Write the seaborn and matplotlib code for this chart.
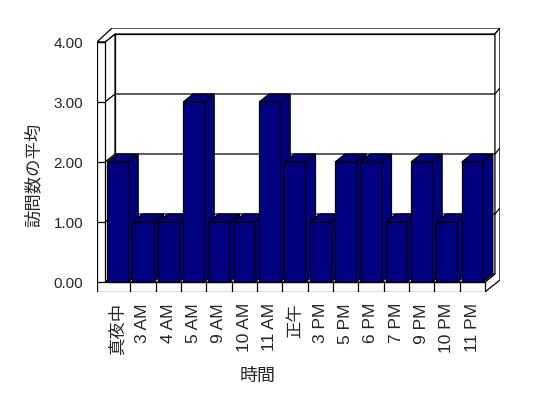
import matplotlib
matplotlib.use("Agg")
import matplotlib.pyplot as plt
import seaborn as sns
import pandas as pd
from matplotlib.patches import Polygon

categories = ["真夜中", "3 AM", "4 AM", "5 AM", "9 AM", "10 AM", "11 AM", "正午",
              "3 PM", "5 PM", "6 PM", "7 PM", "9 PM", "10 PM", "11 PM"]
values = [2, 1, 1, 3, 1, 1, 3, 2, 1, 2, 2, 1, 2, 1, 2]
yticks = [0, 1, 2, 3, 4]
ytick_labels = ["0.00", "1.00", "2.00", "3.00", "4.00"]
xlabel = "時間"
ylabel = "訪問数の平均"

sns.set_style("white")
plt.rcParams["font.family"] = ["Liberation Sans", "Noto Sans CJK JP", "DejaVu Sans"]

W, H = 548, 398
fig = plt.figure(figsize=(W / 100, H / 100), dpi=100)

# geometry (pixel scales)
PX = 25.33   # px per category
PY = 60.0    # px per value unit
n = len(categories)
x0, x1 = -0.5, n - 0.5
ytop = 4.0
DX, DY = 10 / PX, 8 / PY       # depth offset
TX, TY = 5 / PX, 6 / PY        # wall thickness
LW = 8 / PX                    # left wall front thickness
FT = 10 / PY                   # floor thickness

xmin, xmax = x0 - LW, x1 + DX + TX
ymin, ymax = -FT, ytop + DY + TY
left_px, bottom_px = 97, 292
wpx = (xmax - xmin) * PX
hpx = (ymax - ymin) * PY
ax = fig.add_axes([left_px / W, 1 - bottom_px / H, wpx / W, hpx / H])

df = pd.DataFrame({"cat": categories, "val": values})
sns.barplot(data=df, x="cat", y="val", order=categories, color="#000080",
            saturation=1, width=0.83, edgecolor="black", linewidth=0.9, ax=ax)

lw = 0.9
ec = "black"

# left wall + floor front (L shape)
ax.add_patch(Polygon([(x0 - LW, -FT), (x1, -FT), (x1, 0), (x0, 0), (x0, ytop), (x0 - LW, ytop)],
                     closed=True, fc="white", ec=ec, lw=lw, zorder=2))
# left wall inner face
ax.add_patch(Polygon([(x0, 0), (x0, ytop), (x0 + DX, ytop + DY), (x0 + DX, DY)],
                     closed=True, fc="white", ec=ec, lw=lw, zorder=1.5))
# back wall inner face
ax.add_patch(Polygon([(x0 + DX, DY), (x1 + DX, DY), (x1 + DX, ytop + DY), (x0 + DX, ytop + DY)],
                     closed=True, fc="white", ec=ec, lw=lw, zorder=1.4))
# top of walls
ax.add_patch(Polygon([(x0 - LW, ytop), (x0, ytop), (x0 + DX, ytop + DY), (x1 + DX, ytop + DY),
                      (x1 + DX + TX, ytop + DY + TY), (x0 - LW + DX + TX, ytop + DY + TY)],
                     closed=True, fc="white", ec=ec, lw=lw, zorder=1.6))
# right faces (back wall + floor)
Yb = -FT + (DX + TX) * PX * 0.8 / PY
ax.add_patch(Polygon([(x1, -FT), (x1, 0), (x1 + DX, DY), (x1 + DX, ytop + DY),
                      (x1 + DX + TX, ytop + DY + TY), (x1 + DX + TX, Yb)],
                     closed=True, fc="white", ec=ec, lw=lw, zorder=1.6))
# floor top
ax.add_patch(Polygon([(x0, 0), (x1, 0), (x1 + DX, DY), (x0 + DX, DY)],
                     closed=True, fc="white", ec=ec, lw=lw, zorder=1.7))
# floor front dividers
for k in range(1, n):
    ax.plot([k - 0.5, k - 0.5], [-FT, 0], color=ec, lw=lw, zorder=2.5, solid_capstyle="butt")

# gridlines
for k in yticks:
    ax.plot([x0 - LW, x0], [k, k], color=ec, lw=lw, zorder=2.5)
    if 0 < k < ytop:
        ax.plot([x0, x0 + DX, x1 + DX, x1 + DX + TX], [k, k + DY, k + DY, k + DY + TY],
                color=ec, lw=lw, zorder=1.8)

# 3D bar sides and tops
dxb, dyb = DX, DY
for i, p in enumerate(ax.patches[:n]):
    bx, bw, bh = p.get_x(), p.get_width(), p.get_height()
    p.set_zorder(10 + 3 * i + 2)
    side = Polygon([(bx + bw, 0), (bx + bw + dxb, dyb), (bx + bw + dxb, bh + dyb), (bx + bw, bh)],
                   closed=True, fc="#000080", ec=ec, lw=lw, zorder=10 + 3 * i + 1)
    top = Polygon([(bx, bh), (bx + bw, bh), (bx + bw + dxb, bh + dyb), (bx + dxb, bh + dyb)],
                  closed=True, fc="#000080", ec=ec, lw=lw, zorder=10 + 3 * i + 1)
    ax.add_patch(side)
    ax.add_patch(top)

ax.set_xlim(xmin, xmax)
ax.set_ylim(ymin, ymax)
for s in ax.spines.values():
    s.set_visible(False)
ax.set_facecolor("none")
ax.grid(False)

ax.set_yticks(yticks)
ax.set_yticklabels(ytick_labels, fontsize=11)
ax.set_xticks(range(n))
ax.set_xticklabels(categories, rotation=90, fontsize=12.5)
ax.tick_params(axis="y", length=0, pad=10)
ax.tick_params(axis="x", length=0, pad=8)
ax.set_xlabel("")
ax.set_ylabel("")

fig.text(258 / W, 1 - 376 / H, xlabel, fontsize=13, ha="center", va="center",
         family=["Noto Sans CJK JP", "DejaVu Sans"])
fig.text(34 / W, 1 - 175 / H, ylabel, fontsize=12.5, ha="center", va="center", rotation=90,
         family=["Noto Sans CJK JP", "DejaVu Sans"])

fig.savefig("out.png", dpi=100, facecolor="white")
